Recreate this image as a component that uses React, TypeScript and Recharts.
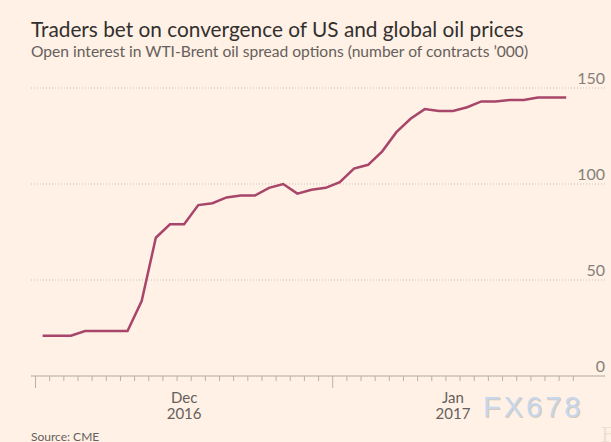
import { LineChart, Line, XAxis, YAxis, CartesianGrid } from "recharts";

// trading days shown on the chart
const DATES = [
  "2016-12-01", "2016-12-02", "2016-12-05", "2016-12-06", "2016-12-07", "2016-12-08", "2016-12-09",
  "2016-12-12", "2016-12-13", "2016-12-14", "2016-12-15", "2016-12-16", "2016-12-19", "2016-12-20",
  "2016-12-21", "2016-12-22", "2016-12-23", "2016-12-27", "2016-12-28", "2016-12-29", "2016-12-30",
  "2017-01-03", "2017-01-04", "2017-01-05", "2017-01-06", "2017-01-09", "2017-01-10", "2017-01-11",
  "2017-01-12", "2017-01-13", "2017-01-17", "2017-01-18", "2017-01-19", "2017-01-20", "2017-01-23",
  "2017-01-24", "2017-01-25", "2017-01-26",
];

// open interest, contracts '000
const OPEN_INTEREST = [
  21, 21, 21, 23.4, 23.4, 23.4, 23.4, 39, 72, 79, 79, 89, 90, 93, 94, 94, 98, 100, 95, 97, 98,
  101, 108, 110, 117, 127, 134, 139, 138, 138, 140, 143, 143, 143.7, 143.7, 145, 145, 145,
];

const MONTH_NAMES = ["Jan", "Feb", "Mar", "Apr", "May", "Jun", "Jul", "Aug", "Sep", "Oct", "Nov", "Dec"];
const Y_TICKS = [0, 50, 100, 150];

const data = DATES.map((d, i) => ({ i, date: d, value: OPEN_INTEREST[i] }));

// group the days by month for the axis labels and the long ticks
const months: { key: string; first: number; last: number }[] = [];
DATES.forEach((d, i) => {
  const key = d.slice(0, 7);
  const m = months[months.length - 1];
  if (m && m.key === key) m.last = i;
  else months.push({ key, first: i, last: i });
});
const monthStarts = months.map((m) => m.first - 0.5);
const monthCenters = months.map((m) => (m.first + m.last) / 2);
const boundaries = Array.from({ length: DATES.length + 1 }, (_, k) => k - 0.5);
const X_TICKS = [...boundaries, ...monthCenters];

const FONT = "Lato, 'Open Sans', sans-serif";
const BG = "#fff1e5";

function XTick(props: any) {
  const { x, y, payload } = props;
  const v = payload.value;
  const mi = monthCenters.indexOf(v);
  if (mi >= 0) {
    const key = months[mi].key;
    const mon = MONTH_NAMES[Number(key.slice(5, 7)) - 1];
    return (
      <text x={x} textAnchor="middle" fontFamily={FONT} fontSize={15} fill="#66605c">
        <tspan x={x} y={y + 27}>{mon}</tspan>
        <tspan x={x} y={y + 43}>{key.slice(0, 4)}</tspan>
      </text>
    );
  }
  const long = monthStarts.includes(v);
  return <line x1={x} x2={x} y1={y} y2={y + (long ? 12 : 5)} stroke="#b9b1a8" strokeWidth={1} />;
}

function YTick(props: any) {
  const { x, y, payload } = props;
  return (
    <text x={x} y={y - 4} textAnchor="end" fontFamily={FONT} fontSize={16} fill="#86807a">
      {payload.value}
    </text>
  );
}

export default function App() {
  return (
    <div style={{ position: "absolute", left: 0, top: 0, width: 611, height: 442, background: BG, overflow: "hidden" }}>
      <LineChart
        width={611}
        height={442}
        data={data}
        margin={{ top: 88, right: 5, bottom: 16, left: 31 }}
      >
        <CartesianGrid horizontal vertical={false} stroke="#cbc3b9" strokeDasharray="1 2" />
        <XAxis
          dataKey="i"
          type="number"
          domain={[-0.82, 39.74]}
          allowDataOverflow
          ticks={X_TICKS}
          interval={0}
          tickSize={0}
          tickMargin={0}
          tickLine={false}
          axisLine={{ stroke: "#b9b1a8" }}
          tick={<XTick />}
          height={50}
        />
        <YAxis
          orientation="right"
          domain={[0, 150]}
          ticks={Y_TICKS}
          interval={0}
          width={1}
          tickSize={0}
          tickMargin={0}
          axisLine={false}
          tickLine={false}
          tick={<YTick />}
        />
        <Line
          type="linear"
          dataKey="value"
          stroke="#a8456a"
          strokeWidth={2.5}
          dot={false}
          isAnimationActive={false}
        />
      </LineChart>
      <svg width={611} height={442} style={{ position: "absolute", left: 0, top: 0, pointerEvents: "none" }}>
        <text x={31} y={37} fontFamily={FONT} fontSize={20.8} fill="#33302e">
          Traders bet on convergence of US and global oil prices
        </text>
        <text x={31} y={57} fontFamily={FONT} fontSize={15.6} fill="#66605c">
          Open interest in WTI-Brent oil spread options (number of contracts ’000)
        </text>
        <text x={31} y={440.5} fontFamily={FONT} fontSize={12} fill="#66605c">
          Source: CME
        </text>
        <text x={484} y={418} fontFamily="'Liberation Sans', Arial, sans-serif" fontSize={29} letterSpacing={3} fill="#d9c9b6">
          FX678
        </text>
        <text x={483} y={417} fontFamily="'Liberation Sans', Arial, sans-serif" fontSize={29} letterSpacing={3} fill="#c6d7ee">
          FX678
        </text>
        <text x={601} y={442} fontFamily="'DejaVu Serif', serif" fontSize={20} fill="#ebe0d3">
          F
        </text>
      </svg>
    </div>
  );
}
